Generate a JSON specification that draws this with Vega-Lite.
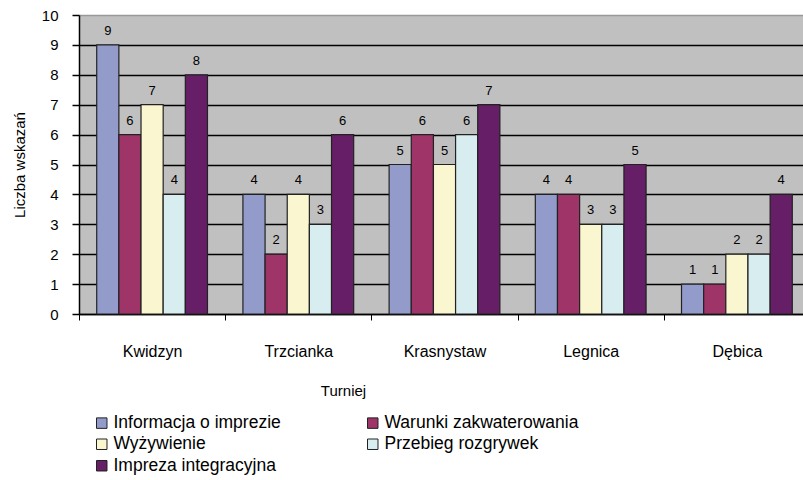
{
  "$schema": "https://vega.github.io/schema/vega-lite/v6.json",
  "width": 731,
  "height": 299,
  "autosize": {"type": "none"},
  "padding": {"left": 79, "top": 15, "right": 0, "bottom": 166},
  "background": "white",
  "config": {
    "view": {"fill": "#C0C0C0", "stroke": null},
    "font": "Liberation Sans"
  },
  "data": {
    "values": [
      {"Turniej": "Kwidzyn", "Kategoria": "Informacja o imprezie", "Liczba": 9},
      {"Turniej": "Kwidzyn", "Kategoria": "Warunki zakwaterowania", "Liczba": 6},
      {"Turniej": "Kwidzyn", "Kategoria": "Wyżywienie", "Liczba": 7},
      {"Turniej": "Kwidzyn", "Kategoria": "Przebieg rozgrywek", "Liczba": 4},
      {"Turniej": "Kwidzyn", "Kategoria": "Impreza integracyjna", "Liczba": 8},
      {"Turniej": "Trzcianka", "Kategoria": "Informacja o imprezie", "Liczba": 4},
      {"Turniej": "Trzcianka", "Kategoria": "Warunki zakwaterowania", "Liczba": 2},
      {"Turniej": "Trzcianka", "Kategoria": "Wyżywienie", "Liczba": 4},
      {"Turniej": "Trzcianka", "Kategoria": "Przebieg rozgrywek", "Liczba": 3},
      {"Turniej": "Trzcianka", "Kategoria": "Impreza integracyjna", "Liczba": 6},
      {"Turniej": "Krasnystaw", "Kategoria": "Informacja o imprezie", "Liczba": 5},
      {"Turniej": "Krasnystaw", "Kategoria": "Warunki zakwaterowania", "Liczba": 6},
      {"Turniej": "Krasnystaw", "Kategoria": "Wyżywienie", "Liczba": 5},
      {"Turniej": "Krasnystaw", "Kategoria": "Przebieg rozgrywek", "Liczba": 6},
      {"Turniej": "Krasnystaw", "Kategoria": "Impreza integracyjna", "Liczba": 7},
      {"Turniej": "Legnica", "Kategoria": "Informacja o imprezie", "Liczba": 4},
      {"Turniej": "Legnica", "Kategoria": "Warunki zakwaterowania", "Liczba": 4},
      {"Turniej": "Legnica", "Kategoria": "Wyżywienie", "Liczba": 3},
      {"Turniej": "Legnica", "Kategoria": "Przebieg rozgrywek", "Liczba": 3},
      {"Turniej": "Legnica", "Kategoria": "Impreza integracyjna", "Liczba": 5},
      {"Turniej": "Dębica", "Kategoria": "Informacja o imprezie", "Liczba": 1},
      {"Turniej": "Dębica", "Kategoria": "Warunki zakwaterowania", "Liczba": 1},
      {"Turniej": "Dębica", "Kategoria": "Wyżywienie", "Liczba": 2},
      {"Turniej": "Dębica", "Kategoria": "Przebieg rozgrywek", "Liczba": 2},
      {"Turniej": "Dębica", "Kategoria": "Impreza integracyjna", "Liczba": 4}
    ]
  },
  "encoding": {
    "x": {
      "field": "Turniej",
      "type": "nominal",
      "sort": ["Kwidzyn", "Trzcianka", "Krasnystaw", "Legnica", "Dębica"],
      "scale": {"paddingInner": 0, "paddingOuter": 0},
      "axis": {
        "title": "Turniej",
        "labelAngle": 0,
        "labelFontSize": 16,
        "labelColor": "#000",
        "labelPadding": 23,
        "tickBand": "extent",
        "tickSize": 6,
        "tickColor": "#000",
        "domainColor": "#000",
        "domainWidth": 1.5,
        "titleFontSize": 15,
        "titleFontWeight": "normal",
        "titleColor": "#000",
        "titlePadding": 24,
        "titleX": 264
      }
    },
    "xOffset": {
      "field": "Kategoria",
      "sort": ["Informacja o imprezie", "Warunki zakwaterowania", "Wyżywienie", "Przebieg rozgrywek", "Impreza integracyjna"],
      "scale": {"paddingInner": 0, "paddingOuter": 0.8}
    },
    "y": {
      "field": "Liczba",
      "type": "quantitative",
      "scale": {"domain": [0, 10]},
      "axis": {
        "title": "Liczba wskazań",
        "values": [0, 1, 2, 3, 4, 5, 6, 7, 8, 9, 10],
        "labelFontSize": 15,
        "labelColor": "#000",
        "labelPadding": 14,
        "tickSize": 7,
        "tickColor": "#000",
        "tickWidth": 1.5,
        "domainColor": "#000",
        "domainWidth": 1.5,
        "gridColor": {"condition": {"test": "datum.value == 10", "value": "#999999"}, "value": "#000000"},
        "gridWidth": 1.5,
        "titleFontSize": 15,
        "titleFontWeight": "normal",
        "titleColor": "#000",
        "titlePadding": 14
      }
    }
  },
  "layer": [
    {
      "mark": {"type": "bar", "stroke": "#222222", "strokeWidth": 1.2},
      "encoding": {
        "color": {
          "field": "Kategoria",
          "type": "nominal",
          "scale": {
            "domain": ["Informacja o imprezie", "Wyżywienie", "Impreza integracyjna", "Warunki zakwaterowania", "Przebieg rozgrywek"],
            "range": ["#939BCB", "#FAF6D0", "#661E66", "#9E3468", "#D8EDF0"]
          },
          "legend": {
            "title": null,
            "orient": "none",
            "legendX": 14,
            "legendY": 399,
            "columns": 2,
            "columnPadding": 83,
            "rowPadding": 2.5,
            "symbolType": "square",
            "symbolSize": 110,
            "symbolStrokeColor": "#222",
            "symbolStrokeWidth": 1,
            "labelFontSize": 17.5,
            "labelColor": "#000",
            "labelOffset": 3,
            "labelLimit": 300
          }
        }
      }
    },
    {
      "mark": {"type": "text", "baseline": "alphabetic", "dy": -10, "fontSize": 13, "color": "#000"},
      "encoding": {"text": {"field": "Liczba", "type": "quantitative"}}
    }
  ]
}
